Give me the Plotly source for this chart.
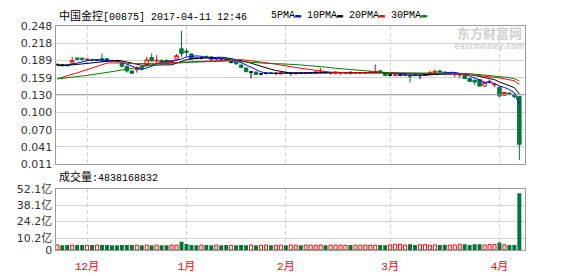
import plotly.graph_objects as go

# ---------------- data ----------------
# closes before the visible window, only used to warm up the moving averages
prior_close = [0.157, 0.156, 0.158, 0.155, 0.156, 0.157, 0.155, 0.156, 0.157, 0.158,
               0.136, 0.134, 0.133, 0.135, 0.134, 0.133, 0.135, 0.134, 0.132, 0.134,
               0.180, 0.183, 0.185, 0.182, 0.181, 0.179, 0.180, 0.178, 0.181]

open_ = [0.182, 0.182, 0.181, 0.184, 0.193, 0.193, 0.190, 0.190, 0.189, 0.192,
         0.192, 0.189, 0.188, 0.184, 0.179, 0.171, 0.173, 0.177, 0.182, 0.194,
         0.188, 0.189, 0.189, 0.187, 0.191, 0.209, 0.205, 0.200, 0.194, 0.193,
         0.196, 0.195, 0.192, 0.192, 0.191, 0.186, 0.187, 0.181, 0.176, 0.169,
         0.169, 0.166, 0.167, 0.168, 0.167, 0.166, 0.168, 0.167, 0.166, 0.168,
         0.167, 0.168, 0.167, 0.168, 0.169, 0.168, 0.167, 0.168, 0.168, 0.169,
         0.168, 0.167, 0.168, 0.168, 0.168, 0.171, 0.168, 0.164, 0.163, 0.164,
         0.163, 0.164, 0.165, 0.163, 0.164, 0.166, 0.167, 0.171, 0.169, 0.168,
         0.166, 0.164, 0.163, 0.158, 0.155, 0.156, 0.145, 0.152, 0.147, 0.143,
         0.129, 0.133, 0.131, 0.127]
high = [0.184, 0.183, 0.182, 0.195, 0.194, 0.193, 0.192, 0.191, 0.190, 0.201,
        0.193, 0.190, 0.189, 0.185, 0.180, 0.172, 0.179, 0.178, 0.195, 0.201,
        0.198, 0.191, 0.191, 0.189, 0.200, 0.240, 0.209, 0.201, 0.195, 0.194,
        0.197, 0.196, 0.193, 0.193, 0.192, 0.188, 0.188, 0.182, 0.177, 0.170,
        0.170, 0.167, 0.168, 0.168, 0.168, 0.169, 0.168, 0.168, 0.169, 0.168,
        0.168, 0.169, 0.171, 0.176, 0.169, 0.169, 0.170, 0.169, 0.169, 0.169,
        0.169, 0.169, 0.169, 0.170, 0.182, 0.173, 0.169, 0.165, 0.165, 0.165,
        0.166, 0.165, 0.166, 0.164, 0.165, 0.171, 0.173, 0.173, 0.170, 0.169,
        0.168, 0.167, 0.165, 0.159, 0.156, 0.157, 0.152, 0.156, 0.150, 0.144,
        0.135, 0.134, 0.132, 0.128]
low = [0.180, 0.179, 0.179, 0.182, 0.190, 0.189, 0.189, 0.188, 0.188, 0.187,
       0.187, 0.187, 0.186, 0.177, 0.168, 0.166, 0.168, 0.172, 0.181, 0.187,
       0.185, 0.182, 0.185, 0.185, 0.190, 0.195, 0.196, 0.190, 0.191, 0.191,
       0.192, 0.188, 0.190, 0.190, 0.188, 0.184, 0.182, 0.176, 0.168, 0.158,
       0.164, 0.163, 0.165, 0.166, 0.164, 0.165, 0.166, 0.163, 0.166, 0.166,
       0.166, 0.167, 0.166, 0.166, 0.167, 0.165, 0.166, 0.165, 0.166, 0.165,
       0.166, 0.167, 0.166, 0.167, 0.167, 0.168, 0.162, 0.162, 0.162, 0.163,
       0.162, 0.151, 0.162, 0.157, 0.163, 0.165, 0.166, 0.168, 0.167, 0.167,
       0.160, 0.158, 0.157, 0.152, 0.147, 0.144, 0.144, 0.150, 0.143, 0.126,
       0.128, 0.130, 0.124, 0.018]
close = [0.182, 0.180, 0.180, 0.189, 0.191, 0.191, 0.191, 0.189, 0.189, 0.188,
         0.188, 0.188, 0.187, 0.179, 0.171, 0.167, 0.175, 0.175, 0.190, 0.188,
         0.189, 0.186, 0.186, 0.188, 0.197, 0.201, 0.203, 0.191, 0.192, 0.193,
         0.194, 0.191, 0.192, 0.191, 0.189, 0.186, 0.183, 0.177, 0.170, 0.169,
         0.165, 0.166, 0.167, 0.167, 0.167, 0.168, 0.167, 0.167, 0.168, 0.167,
         0.168, 0.168, 0.169, 0.169, 0.168, 0.168, 0.169, 0.168, 0.168, 0.167,
         0.168, 0.168, 0.168, 0.169, 0.170, 0.170, 0.163, 0.164, 0.164, 0.164,
         0.164, 0.162, 0.163, 0.163, 0.164, 0.168, 0.170, 0.169, 0.168, 0.168,
         0.167, 0.165, 0.158, 0.153, 0.152, 0.145, 0.151, 0.153, 0.148, 0.128,
         0.134, 0.131, 0.127, 0.045]
# volume in 亿 (1e8 shares)
volume_yi = [4.2, 4.1, 4.2, 4.1, 4.2, 4.2,
             4.0, 4.2, 4.1, 4.2, 4.2, 4.0, 4.1, 4.2, 4.3, 4.2, 4.0, 4.1, 4.2, 4.1,
             4.2, 4.0, 4.1, 4.2, 4.1, 6.9,
             5.0, 4.2, 4.0, 4.1, 4.2, 4.0, 4.2, 4.1, 4.2, 4.0, 4.1, 4.2, 4.0, 4.2,
             4.1, 4.0, 4.2, 4.1, 4.0,
             4.1, 4.0, 4.2, 4.1, 4.0, 4.2, 4.1, 4.0, 4.2, 4.1, 4.0, 4.2, 4.1, 4.0,
             4.2, 4.1, 4.0, 4.2, 4.1, 4.0,
             4.2, 4.1, 4.3, 4.8, 4.9, 4.2, 4.8, 4.3, 4.4, 4.5, 4.1, 4.3, 4.2, 4.4,
             4.1, 4.3, 4.9, 4.8, 4.2, 4.9, 4.9, 4.3, 4.5, 4.6,
             6.4, 4.4, 4.3, 4.3, 48.38168832]

month_labels = ["12月", "1月", "2月", "3月", "4月"]
month_start_idx = [6, 26, 46, 67, 89]

price_tick_labels = ["0.011", "0.041", "0.070", "0.100", "0.130", "0.159", "0.189", "0.218", "0.248"]
vol_tick_labels = ["0", "10.2亿", "24.2亿", "38.1亿", "52.1亿"]
vol_tick_vals = [0, 10.2, 24.2, 38.1, 52.1]

ma_periods = [5, 10, 20, 30]
ma_colors = ["#0000ff", "#000000", "#ff0000", "#008000"]

stock_title = "中国金控"
stock_code = "[00875]"
stamp = "2017-04-11 12:46"

n = len(close)
assert len(open_) == n and len(high) == n and len(low) == n and len(volume_yi) == n
idx = list(range(n))

# ---------------- moving averages ----------------
full = prior_close + close
k0 = len(prior_close)
mas = []
for p in ma_periods:
    mas.append([sum(full[k0 + i - p + 1:k0 + i + 1]) / p for i in idx])

# ---------------- styling ----------------
W, H = 578, 276
left, right = 55.5, 525.0
main_top, main_bot = 21.0, 166.0
vol_top, vol_bot = 192.0, 256.0
RED = "#ff0000"
GREEN = "#00783a"
GRID = "#d2d2d2"
BORDER = "#9a9a9a"
MONO = "Liberation Mono, Noto Sans CJK SC, monospace"
SANS = "DejaVu Sans, Noto Sans CJK SC, sans-serif"

fig = go.Figure()

groups = {
    "up": [i for i in idx if close[i] > open_[i]],
    "down": [i for i in idx if close[i] < open_[i]],
    "flat": [i for i in idx if close[i] == open_[i]],
}
styles = {
    "up": dict(increasing=dict(line=dict(color=RED, width=1), fillcolor="white"),
               decreasing=dict(line=dict(color=RED, width=1), fillcolor="white")),
    "down": dict(increasing=dict(line=dict(color=GREEN, width=1), fillcolor=GREEN),
                 decreasing=dict(line=dict(color=GREEN, width=1), fillcolor=GREEN)),
    "flat": dict(increasing=dict(line=dict(color="#000000", width=1), fillcolor="#000000"),
                 decreasing=dict(line=dict(color="#000000", width=1), fillcolor="#000000")),
}
for key, sel in groups.items():
    if not sel:
        continue
    fig.add_trace(go.Candlestick(
        x=sel, open=[open_[i] for i in sel], high=[high[i] for i in sel],
        low=[low[i] for i in sel], close=[close[i] for i in sel],
        whiskerwidth=0, showlegend=False, hoverinfo="skip",
        xaxis="x", yaxis="y", **styles[key]))

for p, c, m in zip(ma_periods, ma_colors, mas):
    fig.add_trace(go.Scatter(x=idx, y=m, mode="lines", line=dict(color=c, width=1),
                             showlegend=False, hoverinfo="skip", xaxis="x", yaxis="y"))

up_v = [i for i in idx if close[i] >= open_[i]]
dn_v = [i for i in idx if close[i] < open_[i]]
fig.add_trace(go.Bar(x=up_v, y=[volume_yi[i] for i in up_v], width=0.62,
                     marker=dict(color="white", line=dict(color=RED, width=1)),
                     showlegend=False, hoverinfo="skip", xaxis="x2", yaxis="y2"))
fig.add_trace(go.Bar(x=dn_v, y=[volume_yi[i] for i in dn_v], width=0.8,
                     marker=dict(color=GREEN, line=dict(width=0)),
                     showlegend=False, hoverinfo="skip", xaxis="x2", yaxis="y2"))

xr = [-0.36, n + 0.14]
xcommon = dict(range=xr, tickvals=month_start_idx, ticktext=month_labels,
               showgrid=True, gridcolor=GRID, griddash="4px,3px", gridwidth=1,
               showline=True, mirror=True, linecolor=BORDER, linewidth=1,
               zeroline=False, ticks="", fixedrange=True)
price_vals = [float(t) for t in price_tick_labels]

fig.update_layout(
    width=W, height=H, autosize=False,
    margin=dict(l=0, r=0, t=0, b=0),
    paper_bgcolor="white", plot_bgcolor="white",
    boxgap=0.3, boxgroupgap=0.0, barmode="overlay",
    showlegend=False,
    xaxis=dict(domain=[left / W, right / W], anchor="y", showticklabels=False,
               rangeslider=dict(visible=False), **xcommon),
    xaxis2=dict(domain=[left / W, right / W], anchor="y2", showticklabels=True,
                ticklabelstandoff=6,
                tickfont=dict(family=MONO, size=11, color=RED), **xcommon),
    yaxis=dict(domain=[(H - main_bot) / H, (H - main_top) / H], anchor="x",
               range=[price_vals[0], price_vals[-1]], tickvals=price_vals,
               ticktext=price_tick_labels, showgrid=True, gridcolor=GRID,
               showline=True, mirror=True, linecolor=BORDER, zeroline=False,
               ticks="", tickfont=dict(family=SANS, size=11, color="#333333")),
    yaxis2=dict(domain=[(H - vol_bot) / H, (H - vol_top) / H], anchor="x2",
                range=[0, vol_tick_vals[-1]], tickvals=vol_tick_vals,
                ticktext=vol_tick_labels, showgrid=True, gridcolor=GRID,
                showline=True, mirror=True, linecolor=BORDER, zeroline=False,
                ticks="", tickfont=dict(family=SANS, size=11, color="#333333")),
)

# darker middle reference line of the price panel
fig.add_shape(type="line", xref="x", yref="y", x0=xr[0], x1=xr[1],
              y0=price_vals[4], y1=price_vals[4], line=dict(color="#999999", width=1))

# title + MA legend
title_txt = f'<span style="font-size:11px">{stock_title}</span>{stock_code} {stamp}'
fig.add_annotation(x=57 / W, y=(H - 10) / H, xref="paper", yref="paper", text=title_txt,
                   showarrow=False, xanchor="left", yanchor="middle",
                   font=dict(family=MONO, size=10, color="#000000"))
legend_txt = " ".join(f'{p}PMA<span style="color:{c}">▬</span>' for p, c in zip(ma_periods, ma_colors))
fig.add_annotation(x=269 / W, y=(H - 10) / H, xref="paper", yref="paper", text=legend_txt,
                   showarrow=False, xanchor="left", yanchor="middle",
                   font=dict(family=MONO, size=10, color="#000000"))

# volume label
vol_txt = f'<span style="font-size:11px">成交量</span>:{round(volume_yi[-1] * 1e8):d}'
fig.add_annotation(x=57 / W, y=(H - 179) / H, xref="paper", yref="paper", text=vol_txt,
                   showarrow=False, xanchor="left", yanchor="middle",
                   font=dict(family=MONO, size=10, color="#000000"))

# watermark
fig.add_annotation(x=489 / W, y=(H - 28) / H, xref="paper", yref="paper", text="<b>东方财富网</b>",
                   showarrow=False, xanchor="center", yanchor="middle",
                   font=dict(family="Noto Sans CJK SC", size=13, color="#d0d0d0"))
fig.add_annotation(x=489 / W, y=(H - 43) / H, xref="paper", yref="paper", text="<b>eastmoney.com</b>",
                   showarrow=False, xanchor="center", yanchor="middle",
                   font=dict(family="DejaVu Sans", size=8, color="#d6d6d6"))

fig.write_html("out.html")
